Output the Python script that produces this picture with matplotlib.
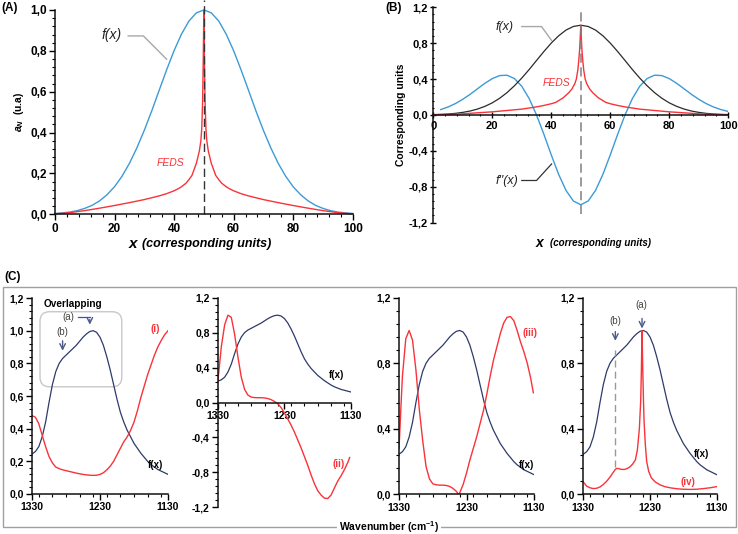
import matplotlib
matplotlib.use("Agg")
import matplotlib.pyplot as plt
from matplotlib.ticker import MultipleLocator, FuncFormatter, FixedLocator
from matplotlib.patches import FancyBboxPatch, Rectangle

plt.rcParams['font.family'] = ['Liberation Sans', 'DejaVu Sans']
plt.rcParams['mathtext.fontset'] = 'custom'
plt.rcParams['mathtext.rm'] = 'Liberation Sans'
plt.rcParams['mathtext.it'] = 'Liberation Sans:italic'
plt.rcParams['mathtext.bf'] = 'Liberation Sans:bold'
plt.rcParams['mathtext.bfit'] = 'Liberation Sans:italic:bold'

# ---------------- data: panels A and B ----------------
x_f = [0, 2.5, 5, 7.5, 10, 12.5, 15, 17.5, 20, 22.5, 25, 27.5, 30, 32.5, 35, 37.5, 40, 42.5, 45, 47.5,
       50, 52.5, 55, 57.5, 60, 62.5, 65, 67.5, 70, 72.5, 75, 77.5, 80, 82.5, 85, 87.5, 90, 92.5, 95, 97.5, 100]
f_vals = [0.004, 0.007, 0.011, 0.018, 0.029, 0.044, 0.066, 0.096, 0.135, 0.186, 0.249, 0.325, 0.411, 0.506,
          0.607, 0.707, 0.801, 0.882, 0.946, 0.986, 1.0, 0.986, 0.946, 0.882, 0.801, 0.707, 0.607, 0.506,
          0.411, 0.325, 0.249, 0.186, 0.135, 0.096, 0.066, 0.044, 0.029, 0.018, 0.011, 0.007, 0.004]

x_d2 = [2.5, 5, 7.5, 10, 12.5, 15, 17.5, 20, 22.5, 25, 27.5, 30, 32.5, 35, 37.5, 40, 42.5, 45, 47.5,
        50, 52.5, 55, 57.5, 60, 62.5, 65, 67.5, 70, 72.5, 75, 77.5, 80, 82.5, 85, 87.5, 90, 92.5, 95, 97.5, 100]
d2_vals = [0.060, 0.089, 0.127, 0.175, 0.230, 0.292, 0.353, 0.405, 0.439, 0.443, 0.406, 0.320, 0.183, 0.0,
           -0.216, -0.445, -0.662, -0.841, -0.959, -1.0, -0.959, -0.841, -0.662, -0.445, -0.216, 0.0, 0.183,
           0.320, 0.406, 0.443, 0.439, 0.405, 0.353, 0.292, 0.230, 0.175, 0.127, 0.089, 0.060, 0.039]

x_feds = [0, 5, 10, 15, 20, 25, 30, 35, 37.5, 40, 41.5, 42.5, 44, 45, 46, 46.5, 47, 47.5, 48, 48.5, 49, 49.3,
          49.6, 49.8, 50, 50.2, 50.4, 50.7, 51, 51.5, 52, 52.5, 53, 53.5, 54, 55, 56, 57.5, 58.5, 60, 62.5,
          65, 70, 75, 80, 85, 90, 95, 100]
feds_A = [0.002, 0.008, 0.018, 0.030, 0.043, 0.057, 0.072, 0.090, 0.101, 0.115, 0.126, 0.135, 0.152, 0.170,
          0.190, 0.210, 0.230, 0.250, 0.280, 0.310, 0.360, 0.420, 0.560, 0.750, 1.0, 0.750, 0.560, 0.420,
          0.360, 0.310, 0.280, 0.250, 0.230, 0.210, 0.190, 0.170, 0.152, 0.135, 0.126, 0.115, 0.101, 0.090,
          0.072, 0.057, 0.043, 0.030, 0.018, 0.008, 0.002]
feds_B = [0.001, 0.005, 0.013, 0.024, 0.035, 0.050, 0.065, 0.090, 0.106, 0.125, 0.140, 0.160, 0.190, 0.220,
          0.250, 0.270, 0.290, 0.320, 0.350, 0.400, 0.500, 0.600, 0.720, 0.850, 1.0, 0.850, 0.720, 0.600,
          0.500, 0.400, 0.350, 0.320, 0.290, 0.270, 0.250, 0.220, 0.190, 0.160, 0.140, 0.125, 0.106, 0.090,
          0.065, 0.050, 0.035, 0.024, 0.013, 0.005, 0.001]
peak_x = 50

# ---------------- data: panel C ----------------
wn = [1330, 1325, 1320, 1315, 1310, 1305, 1300, 1295, 1290, 1285, 1280, 1275, 1270, 1265, 1260, 1255, 1250,
      1245, 1240, 1235, 1230, 1225, 1220, 1215, 1210, 1205, 1200, 1195, 1190, 1185, 1180, 1175, 1170, 1165,
      1160, 1155, 1150, 1145, 1140, 1135, 1130]
fx_C = [0.245, 0.26, 0.29, 0.35, 0.44, 0.56, 0.67, 0.75, 0.80, 0.83, 0.85, 0.87, 0.89, 0.91, 0.935, 0.96,
        0.98, 0.995, 1.0, 0.99, 0.96, 0.91, 0.84, 0.76, 0.67, 0.58, 0.50, 0.44, 0.39, 0.35, 0.31, 0.28, 0.25,
        0.225, 0.20, 0.18, 0.165, 0.15, 0.14, 0.13, 0.12]
red_i = [0.48, 0.47, 0.43, 0.36, 0.29, 0.23, 0.19, 0.165, 0.155, 0.148, 0.143, 0.138, 0.133, 0.128, 0.124,
         0.12, 0.117, 0.115, 0.114, 0.115, 0.12, 0.13, 0.148, 0.17, 0.20, 0.24, 0.28, 0.32, 0.35, 0.39, 0.44,
         0.51, 0.59, 0.66, 0.73, 0.79, 0.85, 0.90, 0.94, 0.975, 1.0]

wn_ii = [1330, 1325, 1320, 1315, 1310, 1305, 1300, 1295, 1290, 1285, 1280, 1275, 1270, 1265, 1260, 1255,
         1250, 1245, 1240, 1235, 1230, 1225, 1220, 1215, 1210, 1205, 1200, 1195, 1190, 1185, 1180, 1175,
         1170, 1165, 1160, 1155, 1150, 1145, 1140, 1135, 1132]
red_ii = [0.26, 0.64, 0.89, 1.0, 0.975, 0.78, 0.52, 0.29, 0.15, 0.085, 0.062, 0.056, 0.055, 0.055, 0.052,
          0.045, 0.032, 0.012, -0.015, -0.06, -0.12, -0.19, -0.26, -0.34, -0.43, -0.52, -0.62, -0.72, -0.83,
          -0.93, -1.01, -1.06, -1.095, -1.10, -1.06, -0.98, -0.90, -0.84, -0.77, -0.69, -0.63]

wn_iii = [1330, 1327, 1325, 1320, 1315, 1310, 1305, 1300, 1295, 1290, 1285, 1280, 1275, 1270, 1265, 1260,
          1255, 1250, 1245, 1242, 1240, 1235, 1230, 1225, 1220, 1215, 1210, 1205, 1200, 1195, 1190, 1185,
          1180, 1175, 1170, 1165, 1160, 1155, 1150, 1145, 1140, 1135, 1131]
red_iii = [0.28, 0.55, 0.72, 0.95, 1.0, 0.94, 0.76, 0.52, 0.33, 0.17, 0.095, 0.064, 0.058, 0.056, 0.056,
           0.054, 0.048, 0.036, 0.018, 0.0, 0.01, 0.06, 0.13, 0.21, 0.28, 0.35, 0.43, 0.51, 0.61, 0.72, 0.82,
           0.90, 0.98, 1.045, 1.08, 1.085, 1.06, 1.0, 0.93, 0.87, 0.80, 0.71, 0.62]

wn_iv = [1330, 1325, 1320, 1315, 1310, 1305, 1300, 1295, 1290, 1285, 1282, 1280, 1277, 1273, 1268, 1264,
         1260, 1256, 1252, 1249, 1246, 1244, 1243, 1242, 1241, 1240, 1239, 1237, 1235, 1232, 1228, 1222,
         1215, 1208, 1200, 1190, 1180, 1170, 1160, 1150, 1140, 1130]
red_iv = [0.075, 0.05, 0.04, 0.035, 0.037, 0.045, 0.06, 0.08, 0.105, 0.135, 0.152, 0.158, 0.157, 0.152,
          0.152, 0.158, 0.168, 0.185, 0.21, 0.27, 0.40, 0.57, 0.75, 1.0, 0.78, 0.60, 0.45, 0.30, 0.20, 0.14,
          0.10, 0.075, 0.058, 0.047, 0.04, 0.034, 0.031, 0.03, 0.031, 0.035, 0.04, 0.047]
wn_ticks = [1330, 1230, 1130]
peak_a = 1242
peak_b = 1282

# ---------------- styling ----------------
BLUE = '#3c9bd6'
RED = '#f8333a'
NAVY = '#2e3a6b'
DARK = '#2b2b2b'


def comma(v, pos):
    s = f"{v:.1f}".replace('.', ',')
    return '0,0' if s == '-0,0' else s


def style(ax, tsize, direction='out'):
    for s in ('top', 'right'):
        ax.spines[s].set_visible(False)
    for s in ('left', 'bottom'):
        ax.spines[s].set_linewidth(1.1)
        ax.spines[s].set_color('#111111')
    ax.tick_params(which='major', direction=direction, length=4, width=1.0, labelsize=tsize, pad=2)
    ax.tick_params(which='minor', direction=direction, length=2, width=0.8)
    for lab in ax.get_xticklabels() + ax.get_yticklabels():
        lab.set_fontweight('bold')
    ax.patch.set_alpha(0)


fig = plt.figure(figsize=(7.38, 5.34), dpi=100)

# ---------------- Panel A ----------------
axA = fig.add_axes([0.0745, 0.5987, 0.4034, 0.3826])
axA.plot(x_f, f_vals, color=BLUE, lw=1.0, clip_on=False)
axA.plot(x_feds, feds_A, color=RED, lw=1.0, clip_on=False)
axA.plot([peak_x, peak_x], [0, 1.05], color='#333333', lw=1.0, ls=(0, (6, 3)), clip_on=False)
axA.set_xlim(0, 100)
axA.set_ylim(0, 1.0)
axA.xaxis.set_major_locator(MultipleLocator(20))
axA.xaxis.set_minor_locator(MultipleLocator(4))
axA.yaxis.set_major_locator(MultipleLocator(0.2))
axA.yaxis.set_minor_locator(MultipleLocator(0.04))
axA.yaxis.set_major_formatter(FuncFormatter(comma))
style(axA, 8.5)
axA.text(19.0, 0.878, 'f(x)', style='italic', fontsize=10, ha='center', va='center', color='#222222')
axA.plot([24.6, 29.7, 37.5], [0.873, 0.873, 0.759], color='#a8a8a8', lw=1.0)
axA.text(38.9, 0.25, 'FEDS', style='italic', fontsize=7.5, ha='center', va='center', color=RED)
axA.set_ylabel(r'$\mathbfit{a}_{\mathbfit{N}}$  (u.a)', fontsize=7.5, fontweight='bold')
axA.yaxis.set_label_coords(-0.098, 0.5)

fig.text(132.7 / 738, 1 - 244.3 / 534, 'x', style='italic', fontweight='bold', fontsize=11,
         ha='center', va='center')
fig.text(142 / 738, 1 - 244.3 / 534, '(corresponding units)', style='italic', fontweight='bold',
         fontsize=9, ha='left', va='center')
fig.text(1 / 738, 1 - 8 / 534, '(A)', fontweight='bold', fontsize=8.5, ha='left', va='center')

# ---------------- Panel B ----------------
axB = fig.add_axes([0.5871, 0.5830, 0.3997, 0.4034])
axB.plot(x_d2, d2_vals, color=BLUE, lw=1.0)
axB.plot(x_f, f_vals, color=DARK, lw=0.9)
axB.plot(x_feds, feds_B, color=RED, lw=1.0)
axB.plot([peak_x, peak_x], [-1.1, 1.15], color='#808080', lw=1.1, ls=(0, (6, 3)), clip_on=False)
axB.set_xlim(0, 100)
axB.set_ylim(-1.2, 1.2)
axB.spines['bottom'].set_position(('data', 0))
axB.xaxis.set_major_locator(MultipleLocator(20))
axB.xaxis.set_minor_locator(MultipleLocator(4))
axB.yaxis.set_major_locator(MultipleLocator(0.4))
axB.yaxis.set_minor_locator(MultipleLocator(0.08))
axB.yaxis.set_major_formatter(FuncFormatter(comma))
style(axB, 8, direction='inout')
axB.text(24.3, 0.985, 'f(x)', style='italic', fontsize=9, ha='center', va='center', color='#222222')
axB.plot([30.0, 36.7, 40.1], [0.985, 0.985, 0.83], color='#a8a8a8', lw=1.0)
axB.text(41.8, 0.36, 'FEDS', style='italic', fontsize=7.5, ha='center', va='center', color=RED)
axB.text(24.9, -0.74, "f''(x)", style='italic', fontsize=9, ha='center', va='center', color='#222222')
axB.plot([30.0, 35.0, 40.1], [-0.73, -0.73, -0.546], color='#333333', lw=0.9)
axB.set_ylabel('Corresponding units', fontsize=7.5, fontweight='bold', labelpad=2)

fig.text(539.3 / 738, 1 - 242.7 / 534, 'x', style='italic', fontweight='bold', fontsize=10,
         ha='center', va='center')
fig.text(550 / 738, 1 - 242.7 / 534, '(corresponding units)', style='italic', fontweight='bold',
         fontsize=7, ha='left', va='center')
fig.text(385 / 738, 1 - 8 / 534, '(B)', fontweight='bold', fontsize=8.5, ha='left', va='center')

# ---------------- Panel C ----------------
fig.add_artist(Rectangle((3 / 738, 1 - 527 / 534), 733 / 738, 240 / 534, transform=fig.transFigure,
                         fill=False, ec='#a0a0a0', lw=1.0))
fig.text(4 / 738, 1 - 277 / 534, '(C)', fontweight='bold', fontsize=8.5, ha='left', va='center')
fig.text(389 / 738, 1 - 527 / 534, r'Wavenumber (cm$^{\mathbf{-1}}$)', fontweight='bold', fontsize=7.5,
         ha='center', va='center', bbox=dict(facecolor='white', edgecolor='none', pad=1.5))


def setup_c(rect, ylo, step, minor):
    ax = fig.add_axes(rect)
    ax.set_xlim(1330, 1130)
    ax.set_ylim(ylo, 1.2)
    ax.xaxis.set_major_locator(FixedLocator(wn_ticks))
    ax.xaxis.set_minor_locator(MultipleLocator(20))
    ax.yaxis.set_major_locator(MultipleLocator(step))
    ax.yaxis.set_minor_locator(MultipleLocator(minor))
    ax.yaxis.set_major_formatter(FuncFormatter(comma))
    return ax


# C1
rect1 = [0.04336, 0.07491, 0.1843, 0.3670]
ax1 = setup_c(rect1, 0.0, 0.2, 0.04)
ax1.plot(wn, fx_C, color=NAVY, lw=0.9)
ax1.plot(wn, red_i, color=RED, lw=1.0)
style(ax1, 7.5)
w_px, h_px = rect1[2] * 738, rect1[3] * 534
ax1.add_patch(FancyBboxPatch((0.059, 0.547), 0.601, 0.383, transform=ax1.transAxes,
                             boxstyle='round,pad=0,rounding_size=0.07', mutation_aspect=w_px / h_px,
                             fill=False, ec='#c8c8c8', lw=1.0))
ax1.text(1270, 1.163, 'Overlapping', fontweight='bold', fontsize=7.2, ha='center', va='center')
ax1.text(1277, 1.082, '(a)', fontsize=7, ha='center', va='center', color='#444444')
ax1.plot([1263, 1245], [1.082, 1.082], color='#3a4fd8', lw=0.9)
ax1.annotate('', xy=(1245, 1.02), xytext=(1245, 1.085),
             arrowprops=dict(arrowstyle='->', color='#4a5a8a', lw=1.0))
ax1.text(1285, 0.99, '(b)', fontsize=7, ha='center', va='center', color='#444444')
ax1.annotate('', xy=(1285, 0.86), xytext=(1285, 0.955),
             arrowprops=dict(arrowstyle='->', color='#4a5a8a', lw=1.0))
ax1.text(1149, 1.008, '(i)', fontweight='bold', fontsize=7, color=RED, ha='center', va='center')
ax1.text(1149, 0.178, 'f(x)', fontweight='bold', fontsize=7, ha='center', va='center')

# C2
ax2 = setup_c([0.2954, 0.05, 0.1802, 0.3925], -1.2, 0.4, 0.08)
ax2.plot(wn, fx_C, color=NAVY, lw=0.9)
ax2.plot(wn_ii, red_ii, color=RED, lw=1.0)
ax2.spines['bottom'].set_position(('data', 0))
style(ax2, 7.5)
ax2.text(1151.5, 0.316, 'f(x)', fontweight='bold', fontsize=7, ha='center', va='center')
ax2.text(1149, -0.70, '(ii)', fontweight='bold', fontsize=7, color=RED, ha='center', va='center')

# C3
ax3 = setup_c([0.5407, 0.0743, 0.1829, 0.3682], 0.0, 0.4, 0.08)
ax3.plot(wn, fx_C, color=NAVY, lw=0.9)
ax3.plot(wn_iii, red_iii, color=RED, lw=1.0)
style(ax3, 7.5)
ax3.text(1136, 0.984, '(iii)', fontweight='bold', fontsize=7, color=RED, ha='center', va='center')
ax3.text(1141, 0.178, 'f(x)', fontweight='bold', fontsize=7, ha='center', va='center')

# C4
ax4 = setup_c([0.7904, 0.0743, 0.1808, 0.3682], 0.0, 0.4, 0.08)
ax4.plot(wn, fx_C, color=NAVY, lw=0.9)
ax4.plot(wn_iv, red_iv, color=RED, lw=1.0)
style(ax4, 7.5)
ax4.plot([peak_b, peak_b], [0.167, 0.88], color='#999999', lw=1.0, ls=(0, (5, 3)))
ax4.text(1243.4, 1.157, '(a)', fontsize=7, ha='center', va='center', color='#444444')
ax4.annotate('', xy=(peak_a, 0.995), xytext=(peak_a, 1.09),
             arrowprops=dict(arrowstyle='->', color='#4a5a8a', lw=1.0))
ax4.text(peak_b, 1.055, '(b)', fontsize=7, ha='center', va='center', color='#444444')
ax4.annotate('', xy=(peak_b, 0.92), xytext=(peak_b, 1.01),
             arrowprops=dict(arrowstyle='->', color='#4a5a8a', lw=1.0))
ax4.text(1152.8, 0.245, 'f(x)', fontweight='bold', fontsize=7, ha='center', va='center')
ax4.text(1172.7, 0.075, '(iv)', fontweight='bold', fontsize=7, color=RED, ha='center', va='center')

fig.savefig('out.png', dpi=100)
